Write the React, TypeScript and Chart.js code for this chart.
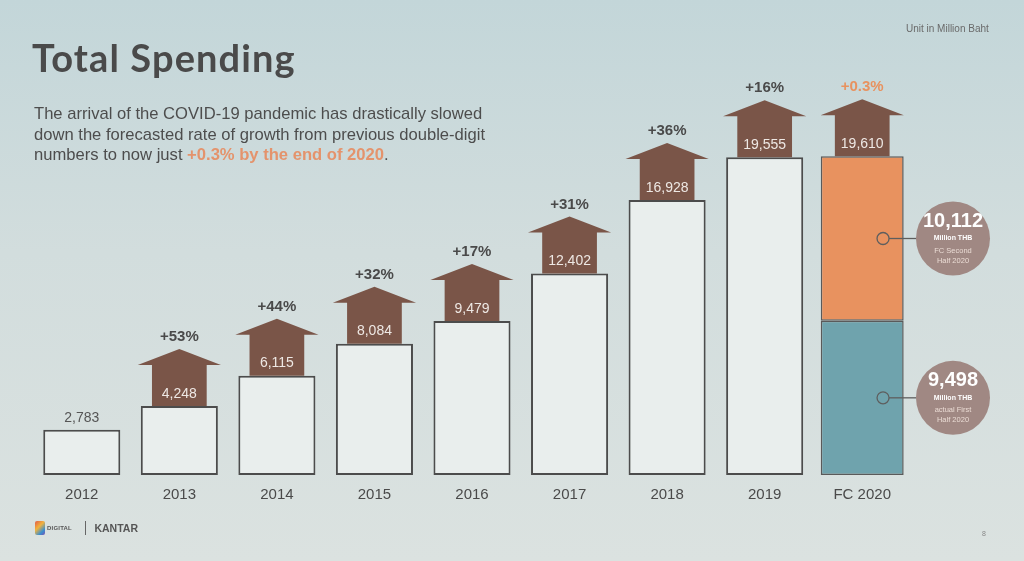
import React, { useEffect, useRef } from "react";
import { Chart, registerables } from "chart.js";

Chart.register(...registerables);

const categories = ["2012", "2013", "2014", "2015", "2016", "2017", "2018", "2019", "FC 2020"];
const totals: (number | null)[] = [2783, 4248, 6115, 8084, 9479, 12402, 16928, 19555, null];
const firstHalf2020: (number | null)[] = [null, null, null, null, null, null, null, null, 9498];
const secondHalf2020: (number | null)[] = [null, null, null, null, null, null, null, null, 10112];
const houseValues: (string | null)[] = [null, "4,248", "6,115", "8,084", "9,479", "12,402", "16,928", "19,555", "19,610"];
const growthLabels: (string | null)[] = [null, "+53%", "+44%", "+32%", "+17%", "+31%", "+36%", "+16%", "+0.3%"];
const firstBarLabel = "2,783";
const circleNotes = [
  { value: "10,112", unit: "Million THB", lines: ["FC Second", "Half 2020"] },
  { value: "9,498", unit: "Million THB", lines: ["actual First", "Half 2020"] },
];

const SANS = "'Liberation Sans', Arial, sans-serif";
const BROWN = "#7a5548";
const ORANGE = "#e8925f";
const TEAL = "#6fa3ad";
const TEXT = "#4a4a4a";

export default function App() {
  const ref = useRef<HTMLCanvasElement>(null);

  useEffect(() => {
    document.body.style.margin = "0";
    const canvas = ref.current!;

    const housePlugin = {
      id: "houses",
      afterDatasetsDraw(chart: any) {
        const c = chart.ctx as CanvasRenderingContext2D;
        const xs = chart.scales.x;
        const ys = chart.scales.y;
        const bw = chart.getDatasetMeta(0).data[0].width;
        c.save();
        categories.forEach((_, i) => {
          const total = totals[i] ?? ((firstHalf2020[i] ?? 0) + (secondHalf2020[i] ?? 0));
          const x = xs.getPixelForValue(i);
          const top = ys.getPixelForValue(total);
          if (houseValues[i] == null) {
            c.fillStyle = "#555";
            c.font = `14px ${SANS}`;
            c.textAlign = "center";
            c.textBaseline = "middle";
            c.fillText(firstBarLabel, x, top - 12);
            return;
          }
          const bodyW = bw * 0.71;
          const roofW = bw * 1.08;
          const bodyH = 41;
          const roofH = 16;
          c.fillStyle = BROWN;
          c.beginPath();
          c.moveTo(x - bodyW / 2, top);
          c.lineTo(x - bodyW / 2, top - bodyH);
          c.lineTo(x - roofW / 2, top - bodyH);
          c.lineTo(x, top - bodyH - roofH);
          c.lineTo(x + roofW / 2, top - bodyH);
          c.lineTo(x + bodyW / 2, top - bodyH);
          c.lineTo(x + bodyW / 2, top);
          c.closePath();
          c.fill();
          c.fillStyle = "#eee8e4";
          c.font = `14px ${SANS}`;
          c.textAlign = "center";
          c.textBaseline = "middle";
          c.fillText(houseValues[i] as string, x, top - 12);
          c.fillStyle = i === categories.length - 1 ? ORANGE : TEXT;
          c.font = `bold 15px ${SANS}`;
          c.fillText(growthLabels[i] as string, x, top - bodyH - roofH - 12);
        });

        // callouts for the 2020 split
        const idx = categories.length - 1;
        const xc = xs.getPixelForValue(idx);
        const segs = [chart.getDatasetMeta(2).data[idx], chart.getDatasetMeta(1).data[idx]];
        segs.forEach((el: any, k: number) => {
          const my = (el.y + el.base) / 2;
          const mx = xc + bw * 0.27;
          const cx = xs.right + 42;
          const r = 37;
          c.strokeStyle = "#5e5e5e";
          c.lineWidth = 1.3;
          c.beginPath();
          c.arc(mx, my, 6, 0, Math.PI * 2);
          c.stroke();
          c.beginPath();
          c.moveTo(mx + 6, my);
          c.lineTo(cx - r, my);
          c.stroke();
          c.fillStyle = "#a08883";
          c.beginPath();
          c.arc(cx, my, r, 0, Math.PI * 2);
          c.fill();
          const note = circleNotes[k];
          c.textAlign = "center";
          c.textBaseline = "middle";
          c.fillStyle = "#ffffff";
          c.font = `bold 20px ${SANS}`;
          c.fillText(note.value, cx, my - 17);
          c.font = `bold 7px ${SANS}`;
          c.fillText(note.unit, cx, my);
          c.fillStyle = "#eadbd4";
          c.font = `7.5px ${SANS}`;
          c.fillText(note.lines[0], cx, my + 12);
          c.fillText(note.lines[1], cx, my + 22);
        });
        c.restore();
      },
    };

    const chart = new Chart(canvas, {
      type: "bar",
      data: {
        labels: categories,
        datasets: [
          {
            label: "Total",
            data: totals,
            backgroundColor: "#e9eeed",
            borderColor: "#4c4c4c",
            borderWidth: 2,
            borderSkipped: false,
            barPercentage: 0.79,
            categoryPercentage: 1,
          },
          {
            label: "Actual first half 2020",
            data: firstHalf2020,
            backgroundColor: TEAL,
            borderColor: "#5a5a5a",
            borderWidth: 1.5,
            borderSkipped: false,
            barPercentage: 0.85,
            categoryPercentage: 1,
          },
          {
            label: "FC second half 2020",
            data: secondHalf2020,
            backgroundColor: ORANGE,
            borderColor: "#5a5a5a",
            borderWidth: 1.5,
            borderSkipped: false,
            barPercentage: 0.85,
            categoryPercentage: 1,
          },
        ],
      },
      options: {
        animation: false,
        responsive: false,
        maintainAspectRatio: false,
        layout: { padding: { left: 33, right: 113, top: 20, bottom: 46 } },
        plugins: { legend: { display: false }, tooltip: { enabled: false }, title: { display: false } },
        scales: {
          x: {
            stacked: true,
            grid: { display: false, drawTicks: false },
            border: { display: false },
            ticks: { color: TEXT, font: { family: SANS, size: 15 }, padding: 11 },
          },
          y: {
            stacked: true,
            display: false,
            min: 0,
            max: 28000,
          },
        },
      },
      plugins: [housePlugin],
    });
    return () => chart.destroy();
  }, []);

  return (
    <div
      style={{
        position: "relative",
        width: 1024,
        height: 561,
        overflow: "hidden",
        background: "linear-gradient(180deg, #c3d6d9 0%, #d2dddd 45%, #dbe2e0 100%)",
        fontFamily: SANS,
      }}
    >
      <canvas ref={ref} width={1024} height={561} style={{ position: "absolute", left: 0, top: 0 }} />
      <div
        style={{
          position: "absolute",
          left: 32,
          top: 35,
          fontFamily: "Lato, sans-serif",
          fontWeight: 700,
          fontSize: 38,
          letterSpacing: 1.1,
          lineHeight: "44px",
          color: "#4a4a4a",
          whiteSpace: "nowrap",
        }}
      >
        Total Spending
      </div>
      <div
        style={{
          position: "absolute",
          left: 34,
          top: 104,
          fontSize: 16.6,
          lineHeight: "20.5px",
          color: "#4d4d4d",
          whiteSpace: "nowrap",
        }}
      >
        The arrival of the COVID-19 pandemic has drastically slowed
        <br />
        down the forecasted rate of growth from previous double-digit
        <br />
        numbers to now just <span style={{ color: "#e4936c", fontWeight: 700 }}>+0.3% by the end of 2020</span>.
      </div>
      <div
        style={{
          position: "absolute",
          left: 906,
          top: 23,
          fontSize: 10,
          color: "#6a6a6a",
          whiteSpace: "nowrap",
        }}
      >
        Unit in Million Baht
      </div>
      <div style={{ position: "absolute", left: 35, top: 521, display: "flex", alignItems: "center" }}>
        <div
          style={{
            width: 10,
            height: 14,
            borderRadius: 2,
            background: "linear-gradient(135deg, #e05a4a, #f2b33d 40%, #3a8fd0 75%, #7b4fb0)",
          }}
        />
        <span style={{ fontSize: 6, fontWeight: 700, color: "#555", marginLeft: 2, letterSpacing: 0.2 }}>DIGITAL</span>
        <div style={{ width: 1.5, height: 14, background: "#666", marginLeft: 13, marginRight: 8 }} />
        <span style={{ fontSize: 10.5, fontWeight: 700, color: "#555" }}>KANTAR</span>
      </div>
      <div style={{ position: "absolute", left: 982, top: 530, fontSize: 7, color: "#888" }}>8</div>
    </div>
  );
}
